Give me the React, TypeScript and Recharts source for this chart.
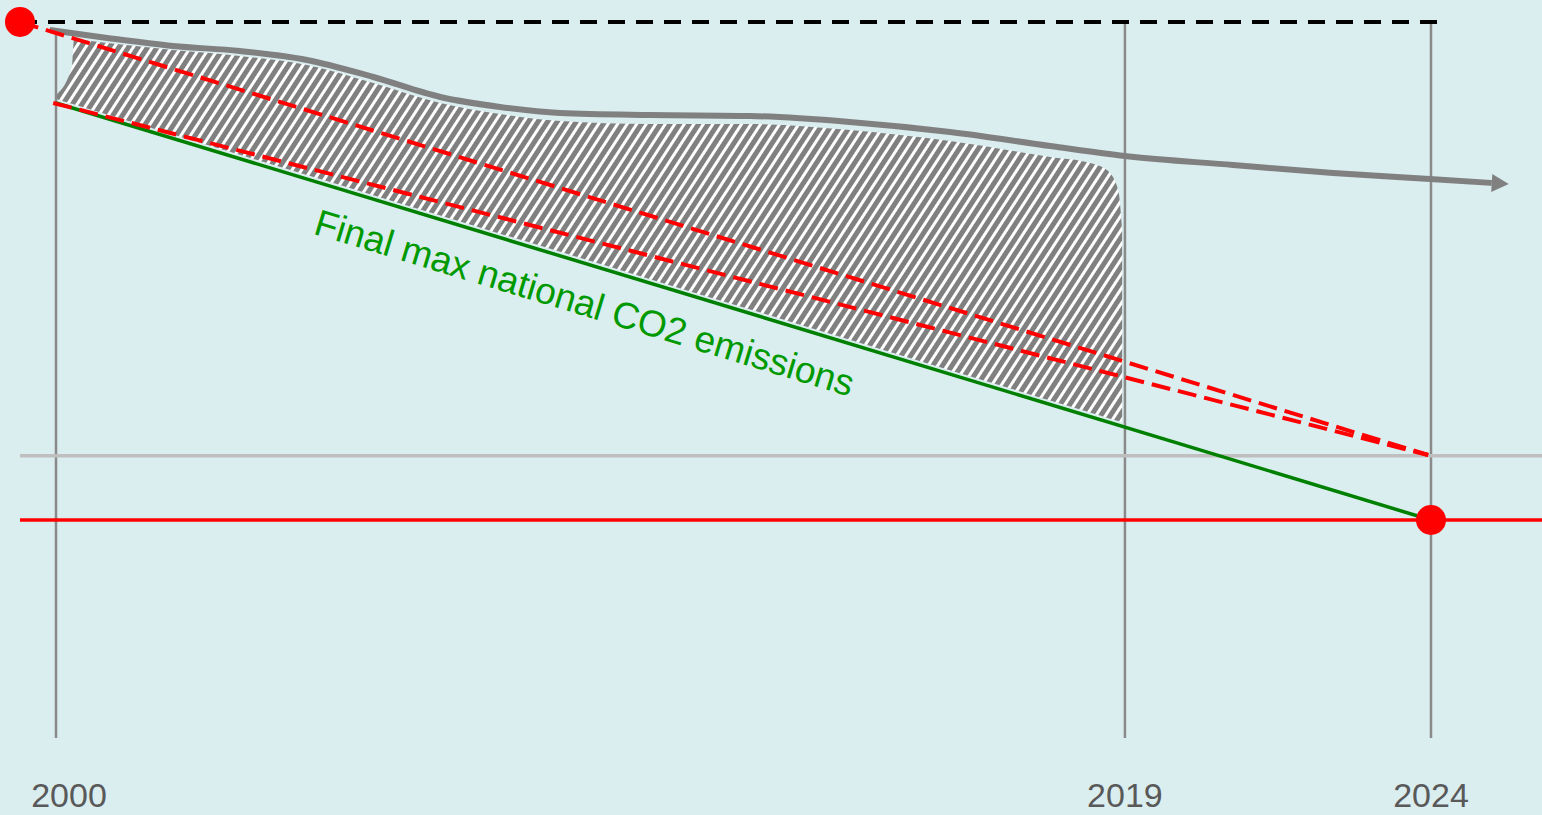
import React from "react";
import {
  ComposedChart,
  Line,
  Area,
  XAxis,
  YAxis,
  ReferenceLine,
  ReferenceDot,
} from "recharts";

// schematic time axis (years since 2000, drawn not to scale after 2019)
const xTickPos = [0, 19, 24.44];
const xTickLabels = ["2000", "2019", "2024"];

// actual national emissions (grey arrow curve), % of 2000 level
const actualT = [-0.11, 0.91, 2.08, 3.27, 4.46, 5.64, 6.83, 7.89, 8.96, 10.56, 12.34, 14.11, 15.89, 17.67, 19.0, 20.92, 22.7, 24.42, 25.52];
const actualV = [98.71, 97.43, 96.14, 95.34, 93.9, 91.16, 87.95, 86.35, 85.38, 85.06, 84.9, 83.94, 82.33, 80.08, 78.47, 77.03, 75.74, 74.78, 74.14];

// hatched excess area between the cap and actual emissions
const gapT = [0, 0.28, 0.32, 0.91, 2.08, 3.27, 4.46, 5.64, 6.83, 7.89, 8.96, 10.56, 12.34, 14.11, 15.89, 17.67, 18.38, 18.68, 18.88, 18.95];
const gapLow = [87.63, 86.85, 86.75, 85.15, 81.93, 78.66, 75.4, 72.18, 68.92, 66.0, 63.08, 58.69, 53.82, 48.95, 44.07, 39.2, 37.25, 36.43, 35.89, 35.69];
const gapHigh = [88.27, 92.77, 97.11, 96.63, 95.5, 94.54, 93.09, 90.2, 86.99, 85.22, 84.1, 83.61, 83.61, 82.65, 80.88, 78.31, 77.35, 76.22, 73.01, 66.59];

// final max national CO2 emissions (green)
const capT = [0, 24.44];
const capV = [86.99, 20];

// red dashed pathways
const pathUpperT = [-0.64, 24.39];
const pathUpperV = [100, 30.44];
const pathLowerT = [-0.05, 24.39];
const pathLowerV = [86.99, 30.44];

const baselineV = 100;
const midLevelV = 30.3;
const targetV = 20;
const startT = -0.64;
const dashedEndT = 24.74;
const vlineTops = [98.39, 100, 100];

const X_DOMAIN: [number, number] = [-0.9954, 26.413];
const Y_DOMAIN: [number, number] = [-15.02, 103.53];

const FONT = "'Liberation Sans', Arial, sans-serif";

const zip = (ts: number[], vs: number[]) => ts.map((t, i) => ({ t, v: vs[i] }));

const actualData = zip(actualT, actualV);
const gapData = gapT.map((t, i) => ({ t, range: [gapLow[i], gapHigh[i]] }));
const capData = zip(capT, capV);
const upperData = zip(pathUpperT, pathUpperV);
const lowerData = zip(pathLowerT, pathLowerV);

function YearTick(props: any) {
  const { x, y, payload, index } = props;
  const i = xTickPos.indexOf(payload.value);
  return (
    <text
      x={x + (index === 0 ? 13 : 0)}
      y={y}
      dy={61}
      textAnchor="middle"
      fill="#595959"
      fontSize={34}
      fontFamily={FONT}
    >
      {xTickLabels[i]}
    </text>
  );
}

function ArrowHead(props: any) {
  const { cx, cy, index } = props;
  if (index !== actualT.length - 1) return <g key={`d-${index}`} />;
  return (
    <polygon
      key="arrow"
      points={`${cx},${cy - 9} ${cx + 17},${cy} ${cx},${cy + 9}`}
      fill="#808080"
      transform={`rotate(3.5 ${cx} ${cy})`}
    />
  );
}

function CapLabel(props: any) {
  const { cx, cy } = props;
  return (
    <text
      x={cx}
      y={cy}
      textAnchor="middle"
      fill="#009a00"
      fontSize={37}
      fontFamily={FONT}
      transform={`rotate(16.9 ${cx} ${cy})`}
    >
      Final max national CO2 emissions
    </text>
  );
}

export default function App() {
  return (
    <div style={{ width: 1542, height: 815, background: "#daedef" }}>
      <style>{"body{margin:0}"}</style>
      <ComposedChart
        width={1542}
        height={815}
        margin={{ top: 0, right: 0, bottom: 0, left: 0 }}
      >
        <defs>
          <pattern
            id="hatch"
            patternUnits="userSpaceOnUse"
            width="8"
            height="8"
            patternTransform="rotate(33)"
          >
            <rect width="8" height="8" fill="#808080" />
            <rect x="0" width="3" height="8" fill="#ffffff" />
          </pattern>
        </defs>
        <XAxis
          type="number"
          dataKey="t"
          domain={X_DOMAIN}
          allowDataOverflow
          ticks={xTickPos}
          height={77}
          axisLine={false}
          tickLine={false}
          tick={<YearTick />}
        />
        <YAxis type="number" domain={Y_DOMAIN} allowDataOverflow hide />

        <Area
          data={gapData}
          dataKey="range"
          type="monotone"
          stroke="none"
          fill="url(#hatch)"
          fillOpacity={1}
          isAnimationActive={false}
        />

        {xTickPos.map((t, i) => (
          <ReferenceLine
            key={`v-${i}`}
            segment={[
              { x: t, y: Y_DOMAIN[0] },
              { x: t, y: vlineTops[i] },
            ]}
            stroke="#8a8a8a"
            strokeWidth={2.5}
          />
        ))}

        <Line
          data={actualData}
          dataKey="v"
          type="monotone"
          stroke="#808080"
          strokeWidth={6}
          dot={<ArrowHead />}
          activeDot={false}
          isAnimationActive={false}
        />

        <ReferenceLine
          segment={[
            { x: startT, y: midLevelV },
            { x: X_DOMAIN[1], y: midLevelV },
          ]}
          stroke="#bfbfbf"
          strokeWidth={3.5}
        />
        <ReferenceLine
          segment={[
            { x: startT, y: targetV },
            { x: X_DOMAIN[1], y: targetV },
          ]}
          stroke="#ff0000"
          strokeWidth={3.5}
        />

        <Line
          data={capData}
          dataKey="v"
          type="linear"
          stroke="#008000"
          strokeWidth={3.5}
          dot={false}
          activeDot={false}
          isAnimationActive={false}
        />
        <Line
          data={upperData}
          dataKey="v"
          type="linear"
          stroke="#ff0000"
          strokeWidth={4}
          strokeDasharray="19 8"
          dot={false}
          activeDot={false}
          isAnimationActive={false}
        />
        <Line
          data={lowerData}
          dataKey="v"
          type="linear"
          stroke="#ff0000"
          strokeWidth={4}
          strokeDasharray="19 8"
          dot={false}
          activeDot={false}
          isAnimationActive={false}
        />

        <ReferenceLine
          segment={[
            { x: startT, y: baselineV },
            { x: dashedEndT, y: baselineV },
          ]}
          stroke="#000000"
          strokeWidth={4}
          strokeDasharray="17 11"
        />

        <ReferenceDot x={startT} y={baselineV} r={15} fill="#ff0000" stroke="none" />
        <ReferenceDot x={capT[1]} y={targetV} r={15} fill="#ff0000" stroke="none" />
        <ReferenceDot x={9.33} y={52.93} r={0} shape={<CapLabel />} />
      </ComposedChart>
    </div>
  );
}
